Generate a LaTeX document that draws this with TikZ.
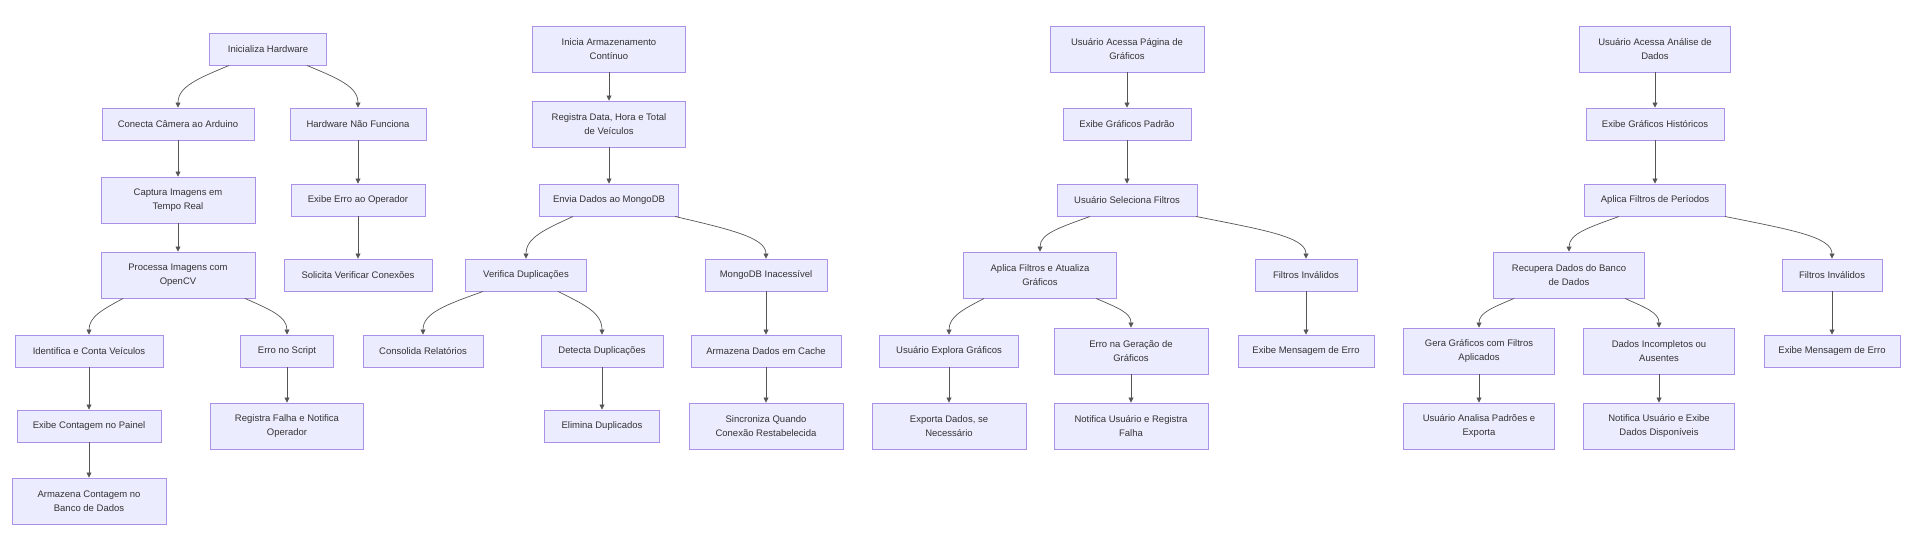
\documentclass[tikz,border=0pt]{standalone}
\usepackage{fontspec}
\setmainfont{Liberation Sans}
\usetikzlibrary{arrows.meta}
\definecolor{boxfill}{HTML}{ECECFF}
\definecolor{boxline}{HTML}{AA90E6}
\definecolor{textc}{HTML}{333333}
\definecolor{edgec}{HTML}{555555}
\tikzset{
  box/.style={draw=boxline, fill=boxfill, line width=0.9pt, text=textc,
    font=\fontsize{9.5}{14}\selectfont, align=center, inner sep=0pt,
    minimum height=32pt},
  tall/.style={minimum height=46pt},
  edge/.style={draw=edgec, line width=0.7pt, -{Triangle[length=5pt,width=5pt]}}
}
\begin{document}
\begin{tikzpicture}[x=1pt,y=-1pt]
\useasboundingbox (0,0) rectangle (1910,542);
% ---------- Group 1
\node[box, minimum width=117pt] (A) at (268,49) {Inicializa Hardware};
\node[box, minimum width=152pt] (B) at (178,124) {Conecta Câmera ao Arduino};
\node[box, minimum width=136pt] (C) at (358,124) {Hardware Não Funciona};
\node[box, tall, minimum width=154pt] (D) at (178,200) {Captura Imagens em\\Tempo Real};
\node[box, minimum width=134pt] (F) at (358,200) {Exibe Erro ao Operador};
\node[box, tall, minimum width=154pt] (G) at (178,275) {Processa Imagens com\\OpenCV};
\node[box, minimum width=148pt] (H) at (358,275) {Solicita Verificar Conexões};
\node[box, minimum width=148pt] (I) at (89,351) {Identifica e Conta Veículos};
\node[box, minimum width=93pt] (J) at (287,351) {Erro no Script};
\node[box, minimum width=144pt] (K) at (89,426) {Exibe Contagem no Painel};
\node[box, tall, minimum width=153pt] (L) at (287,426) {Registra Falha e Notifica\\Operador};
\node[box, tall, minimum width=154pt] (M) at (89,501) {Armazena Contagem no\\Banco de Dados};
\draw[edge] ([xshift=-39pt]A.south) .. controls +(-31,13) and +(0,-21) .. (B.north);
\draw[edge] ([xshift=39pt]A.south) .. controls +(31,13) and +(0,-21) .. (C.north);
\draw[edge] (B) -- (D);
\draw[edge] (C) -- (F);
\draw[edge] (D) -- (G);
\draw[edge] (F) -- (H);
\draw[edge] ([xshift=-55pt]G.south) .. controls +(-20,11) and +(0,-18) .. (I.north);
\draw[edge] ([xshift=67pt]G.south) .. controls +(25,11) and +(0,-18) .. (J.north);
\draw[edge] (I) -- (K);
\draw[edge] (K) -- (M);
\draw[edge] (J) -- (L);
% ---------- Group 2
\node[box, tall, minimum width=153pt] (P1) at (609,49) {Inicia Armazenamento\\Contínuo};
\node[box, tall, minimum width=153pt] (P2) at (609,124) {Registra Data, Hora e Total\\de Veículos};
\node[box, minimum width=139pt] (P3) at (609,200) {Envia Dados ao MongoDB};
\node[box, minimum width=121pt] (P4) at (526,275) {Verifica Duplicações};
\node[box, minimum width=122pt] (P5) at (766,275) {MongoDB Inacessível};
\node[box, minimum width=120pt] (P6) at (423,351) {Consolida Relatórios};
\node[box, minimum width=122pt] (P7) at (602,351) {Detecta Duplicações};
\node[box, minimum width=115pt] (P8) at (602,426) {Elimina Duplicados};
\node[box, minimum width=150pt] (P9) at (766,351) {Armazena Dados em Cache};
\node[box, tall, minimum width=154pt] (P10) at (766,426) {Sincroniza Quando\\Conexão Restabelecida};
\draw[edge] (P1) -- (P2);
\draw[edge] (P2) -- (P3);
\draw[edge] ([xshift=-36pt]P3.south) .. controls +(-28,13) and +(0,-21) .. (P4.north);
\draw[edge] ([xshift=66pt]P3.south) .. controls +(55,13) and +(0,-21) .. (P5.north);
\draw[edge] ([xshift=-43pt]P4.south) .. controls +(-36,13) and +(0,-22) .. (P6.north);
\draw[edge] ([xshift=32pt]P4.south) .. controls +(26,13) and +(0,-22) .. (P7.north);
\draw[edge] (P7) -- (P8);
\draw[edge] (P5) -- (P9);
\draw[edge] (P9) -- (P10);
% ---------- Group 3
\node[box, tall, minimum width=154pt] (Q1) at (1127,49) {Usuário Acessa Página de\\Gráficos};
\node[box, minimum width=128pt] (Q2) at (1127,124) {Exibe Gráficos Padrão};
\node[box, minimum width=140pt] (Q3) at (1127,200) {Usuário Seleciona Filtros};
\node[box, tall, minimum width=153pt] (Q4) at (1040,275) {Aplica Filtros e Atualiza\\Gráficos};
\node[box, minimum width=102pt] (Q5) at (1306,275) {Filtros Inválidos};
\node[box, minimum width=139pt] (Q6) at (949,351) {Usuário Explora Gráficos};
\node[box, tall, minimum width=154pt] (Q7) at (1131,351) {Erro na Geração de\\Gráficos};
\node[box, tall, minimum width=154pt] (Q8) at (949,426) {Exporta Dados, se\\Necessário};
\node[box, tall, minimum width=154pt] (Q9) at (1131,426) {Notifica Usuário e Registra\\Falha};
\node[box, minimum width=136pt] (Q10) at (1306,351) {Exibe Mensagem de Erro};
\draw[edge] (Q1) -- (Q2);
\draw[edge] (Q2) -- (Q3);
\draw[edge] ([xshift=-37pt]Q3.south) .. controls +(-30,11) and +(0,-18) .. (Q4.north);
\draw[edge] ([xshift=69pt]Q3.south) .. controls +(65,13) and +(0,-22) .. (Q5.north);
\draw[edge] ([xshift=-56pt]Q4.south) .. controls +(-21,11) and +(0,-18) .. (Q6.north);
\draw[edge] ([xshift=56pt]Q4.south) .. controls +(21,9) and +(0,-15) .. (Q7.north);
\draw[edge] (Q6) -- (Q8);
\draw[edge] (Q7) -- (Q9);
\draw[edge] (Q5) -- (Q10);
% ---------- Group 4
\node[box, tall, minimum width=151pt] (R1) at (1655,49) {Usuário Acessa Análise de\\Dados};
\node[box, minimum width=138pt] (R2) at (1655,124) {Exibe Gráficos Históricos};
\node[box, minimum width=141pt] (R3) at (1655,200) {Aplica Filtros de Períodos};
\node[box, tall, minimum width=151pt] (R4) at (1569,275) {Recupera Dados do Banco\\de Dados};
\node[box, minimum width=100pt] (R5) at (1832,275) {Filtros Inválidos};
\node[box, tall, minimum width=151pt] (R6) at (1479,351) {Gera Gráficos com Filtros\\Aplicados};
\node[box, tall, minimum width=151pt] (R7) at (1659,351) {Dados Incompletos ou\\Ausentes};
\node[box, tall, minimum width=151pt] (R8) at (1479,426) {Usuário Analisa Padrões e\\Exporta};
\node[box, tall, minimum width=151pt] (R9) at (1659,426) {Notifica Usuário e Exibe\\Dados Disponíveis};
\node[box, minimum width=136pt] (R10) at (1832,351) {Exibe Mensagem de Erro};
\draw[edge] (R1) -- (R2);
\draw[edge] (R2) -- (R3);
\draw[edge] ([xshift=-36pt]R3.south) .. controls +(-30,11) and +(0,-18) .. (R4.north);
\draw[edge] ([xshift=70pt]R3.south) .. controls +(64,13) and +(0,-22) .. (R5.north);
\draw[edge] ([xshift=-55pt]R4.south) .. controls +(-21,9) and +(0,-15) .. (R6.north);
\draw[edge] ([xshift=56pt]R4.south) .. controls +(20,9) and +(0,-15) .. (R7.north);
\draw[edge] (R6) -- (R8);
\draw[edge] (R7) -- (R9);
\draw[edge] (R5) -- (R10);
\end{tikzpicture}
\end{document}
